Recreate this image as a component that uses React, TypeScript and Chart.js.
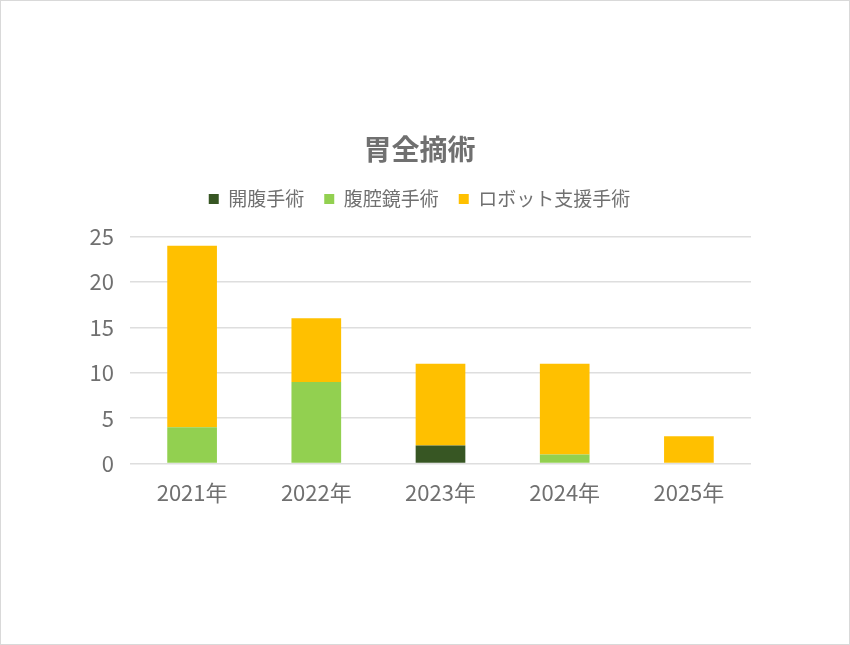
import React, { useEffect, useRef } from "react";
import { Chart, registerables, ChartOptions } from "chart.js";

Chart.register(...registerables);

const years = ["2021年", "2022年", "2023年", "2024年", "2025年"];
const openSurgery = [0, 0, 2, 0, 0];
const laparoscopic = [4, 9, 0, 1, 0];
const robotAssisted = [20, 7, 9, 10, 3];

const FONT = "'Noto Sans CJK JP', 'Noto Sans', sans-serif";
const TEXT = "#707070";

// pushes the plot down a little below the legend
const legendGap = {
  id: "legendGap",
  beforeInit(chart: any) {
    const fit = chart.legend.fit;
    chart.legend.fit = function () {
      fit.bind(chart.legend)();
      this.height += 18;
    };
  },
};

export default function App() {
  const canvasRef = useRef<HTMLCanvasElement | null>(null);

  useEffect(() => {
    document.body.style.margin = "0";
    const ctx = canvasRef.current?.getContext("2d");
    if (!ctx) return;

    const options: ChartOptions<"bar"> = {
      responsive: true,
      maintainAspectRatio: false,
      animation: false,
      layout: { padding: { top: 132, left: 87, right: 98, bottom: 130 } },
      scales: {
        x: {
          stacked: true,
          grid: { display: false },
          border: { display: false },
          ticks: { color: TEXT, font: { family: FONT, size: 22 }, padding: 8 },
        },
        y: {
          stacked: true,
          min: 0,
          max: 25,
          afterFit: (s) => { s.width = 42; },
          ticks: { stepSize: 5, color: TEXT, font: { family: FONT, size: 22 }, padding: 16 },
          grid: { color: "#dedede", lineWidth: 1.5, drawTicks: false },
          border: { display: false },
        },
      },
      plugins: {
        title: {
          display: true,
          text: "胃全摘術",
          color: TEXT,
          font: { family: FONT, size: 28, weight: "bold" },
          padding: { top: 0, bottom: 3 },
        },
        legend: {
          position: "top",
          labels: {
            color: TEXT,
            font: { family: FONT, size: 19 },
            boxWidth: 10,
            boxHeight: 10,
            padding: 20,
          },
        },
        tooltip: { enabled: false },
      },
    };

    const chart = new Chart(ctx, {
      type: "bar",
      data: {
        labels: years,
        datasets: [
          { label: "開腹手術", data: openSurgery, backgroundColor: "#375623", categoryPercentage: 1, barPercentage: 0.4 },
          { label: "腹腔鏡手術", data: laparoscopic, backgroundColor: "#92d050", categoryPercentage: 1, barPercentage: 0.4 },
          { label: "ロボット支援手術", data: robotAssisted, backgroundColor: "#ffc000", categoryPercentage: 1, barPercentage: 0.4 },
        ],
      },
      options,
      plugins: [legendGap],
    });

    return () => { chart.destroy(); };
  }, []);

  return (
    <div style={{ width: 850, height: 645, boxSizing: "border-box", border: "1px solid #d9d9d9", background: "#fff", position: "relative" }}>
      <canvas ref={canvasRef} />
    </div>
  );
}
